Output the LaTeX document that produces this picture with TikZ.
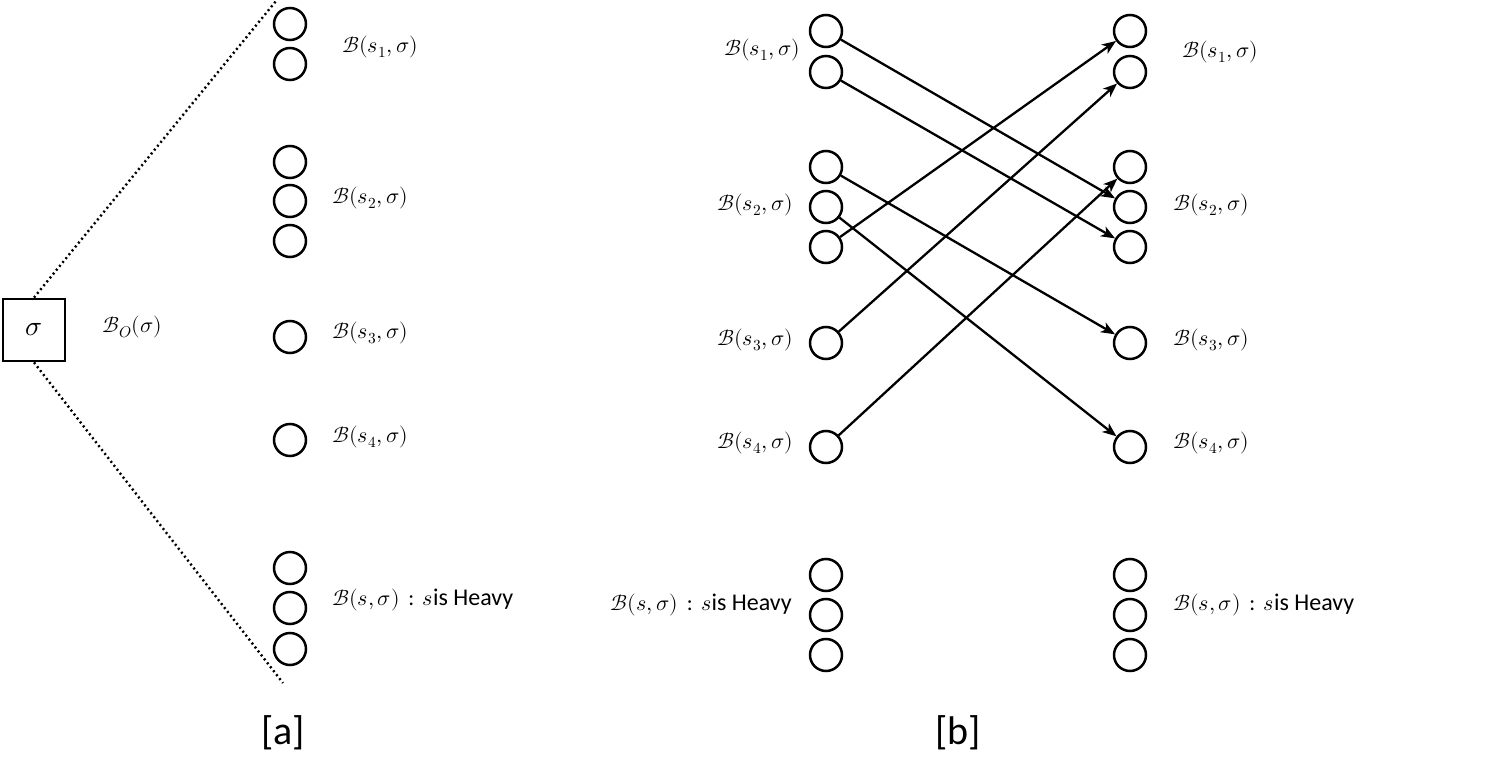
\documentclass[tikz,border=0pt]{standalone}
\usepackage{fontspec}
\usepackage{unicode-math}
\setmainfont{Carlito}
\setmathfont{Latin Modern Math}
\usetikzlibrary{arrows.meta}
\newcommand{\Blab}[1]{$\mathcal{B}(s_{#1},\sigma)$}
\newcommand{\Bheavy}{$\mathcal{B}(s,\sigma)$\ \,:\ \,$s${\fontsize{24}{28}\selectfont is Heavy}}
\begin{document}
\begin{tikzpicture}[x=1pt,y=-1pt,
  bub/.style={circle,draw,line width=2.5pt,minimum size=32pt,inner sep=0pt},
  lab/.style={inner sep=0pt,font=\fontsize{22}{26}\selectfont},
  captext/.style={inner sep=0pt,font=\fontsize{40}{46}\selectfont},
  dots/.style={line width=2.4pt,dash pattern=on 2pt off 3pt},
  arr/.style={line width=2.3pt,-{Stealth[length=14pt,width=11pt,inset=4pt]}}]
\useasboundingbox (0,0) rectangle (1500,776);
% ---------- panel a ----------
\node[draw,line width=2.8pt,minimum size=62pt,inner sep=0pt,font=\fontsize{28}{32}\selectfont] (box) at (34,330) {$\sigma$};
\coordinate (dt) at (276,1);
\coordinate (db) at (283,683);
\draw[dots] (box.north) -- (dt);
\draw[dots] (box.south) -- (db);
\node[lab,anchor=west] (bo) at (102,327) {$\mathcal{B}_{O}(\sigma)$};
\foreach \n/\y in {1/24,2/64,3/162,4/201,5/241,6/337,7/440,8/568,9/608,10/649}
  \node[bub] (a\n) at (290,\y) {};
\node[lab,anchor=west] (la1) at (342,47) {\Blab{1}};
\node[lab,anchor=west] (la2) at (332,198) {\Blab{2}};
\node[lab,anchor=west] (la3) at (332,333) {\Blab{3}};
\node[lab,anchor=west] (la4) at (332,437) {\Blab{4}};
\node[lab,anchor=west] (la5) at (332,600) {\Bheavy};
\node[captext] (capa) at (283,733) {[a]};
% ---------- panel b ----------
\foreach \n/\y in {1/31,2/72,3/167,4/207,5/247,6/343,7/447,8/575,9/615,10/655}{
  \node[bub] (l\n) at (826,\y) {};
  \node[bub] (r\n) at (1130,\y) {};
}
\node[lab,anchor=east] (lb1) at (800,50) {\Blab{1}};
\node[lab,anchor=east] (lb2) at (793,205) {\Blab{2}};
\node[lab,anchor=east] (lb3) at (793,340) {\Blab{3}};
\node[lab,anchor=east] (lb4) at (793,443) {\Blab{4}};
\node[lab,anchor=east] (lb5) at (792,605) {\Bheavy};
\node[lab,anchor=west] (rb1) at (1182,52) {\Blab{1}};
\node[lab,anchor=west] (rb2) at (1173,205) {\Blab{2}};
\node[lab,anchor=west] (rb3) at (1173,340) {\Blab{3}};
\node[lab,anchor=west] (rb4) at (1173,443) {\Blab{4}};
\node[lab,anchor=west] (rb5) at (1173,605) {\Bheavy};
\draw[arr] (l1) -- (r4);
\draw[arr] (l2) -- (r5);
\draw[arr] (l3) -- (r6);
\draw[arr] (l4) -- (r7);
\draw[arr] (l5) -- (r1);
\draw[arr] (l6) -- (r2);
\draw[arr] (l7) -- (r3);
\node[captext] (capb) at (958,733) {[b]};
\end{tikzpicture}
\end{document}
